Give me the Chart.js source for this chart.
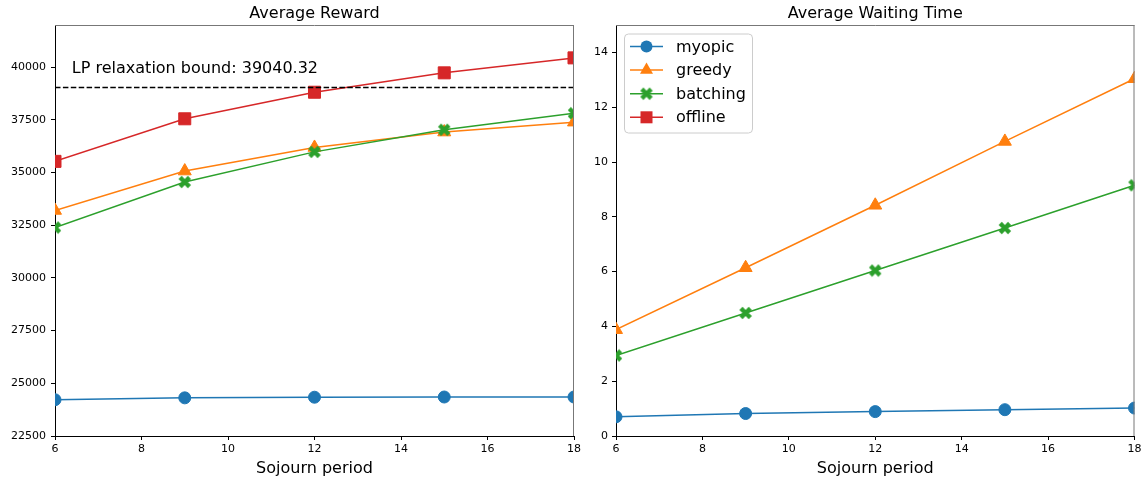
<!DOCTYPE html>
<html><head><meta charset="utf-8">
<script src="https://cdn.jsdelivr.net/npm/chart.js@4/dist/chart.umd.min.js"></script>
<style>
html,body{margin:0;padding:0;background:#fff;}
#wrap{position:relative;width:1143px;height:481px;overflow:hidden;background:#fff;}
canvas{position:absolute;top:0;}
</style></head><body>
<div id="wrap">
<canvas id="c1" width="590" height="481" style="left:0;width:590px;height:481px"></canvas>
<canvas id="c2" width="565" height="481" style="left:578px;width:565px;height:481px"></canvas>
</div>
<script>
// ---- data ----
const sojourn = [6, 9, 12, 15, 18];
const seriesNames = ['myopic', 'greedy', 'batching', 'offline'];
const rewardMyopic   = [24220, 24310, 24340, 24350, 24350];
const rewardGreedy   = [33200, 35070, 36190, 36920, 37390];
const rewardBatching = [32390, 34550, 35980, 37030, 37810];
const rewardOffline  = [35530, 37550, 38810, 39730, 40440];
const waitMyopic   = [0.70, 0.82, 0.89, 0.96, 1.02];
const waitGreedy   = [3.88, 6.14, 8.42, 10.75, 13.04];
const waitBatching = [2.94, 4.49, 6.04, 7.59, 9.15];
const lpBound = 39040.32;
const xTicks = [6, 8, 10, 12, 14, 16, 18];
const rewardTicks = [22500, 25000, 27500, 30000, 32500, 35000, 37500, 40000];
const waitTicks = [0, 2, 4, 6, 8, 10, 12, 14];

const COLORS = ['#1f77b4', '#ff7f0e', '#2ca02c', '#d62728'];
const FONT = "'DejaVu Sans', sans-serif";

// filled X marker image
function makeX(color) {
  const c = document.createElement('canvas');
  c.width = 14; c.height = 14;
  const g = c.getContext('2d');
  g.translate(7, 7); g.rotate(Math.PI / 4);
  const s = 6.6, w = 2.2;
  g.fillStyle = color;
  g.beginPath();
  g.moveTo(-w, -s); g.lineTo(w, -s); g.lineTo(w, -w); g.lineTo(s, -w);
  g.lineTo(s, w); g.lineTo(w, w); g.lineTo(w, s); g.lineTo(-w, s);
  g.lineTo(-w, w); g.lineTo(-s, w); g.lineTo(-s, -w); g.lineTo(-w, -w);
  g.closePath(); g.fill();
  return c;
}
const xImg = makeX(COLORS[2]);
const STYLES = [
  {pointStyle: 'circle', pointRadius: 6},
  {pointStyle: 'triangle', pointRadius: 7.5},
  {pointStyle: xImg, pointRadius: 7},
  {pointStyle: 'rect', pointRadius: 8.5}
];

function pts(vals) { return sojourn.map((x, i) => ({x: x, y: vals[i]})); }
function ds(idx, vals) {
  return {
    label: seriesNames[idx],
    data: pts(vals),
    borderColor: COLORS[idx],
    backgroundColor: COLORS[idx],
    pointBackgroundColor: COLORS[idx],
    pointBorderColor: COLORS[idx],
    pointBorderWidth: 1,
    borderWidth: 1.5,
    tension: 0,
    pointStyle: STYLES[idx].pointStyle,
    pointRadius: STYLES[idx].pointRadius,
    pointHoverRadius: STYLES[idx].pointRadius,
    clip: 0,
    order: 3 - idx
  };
}

function drawMarker(ctx, idx, x, y) {
  const c = COLORS[idx];
  ctx.save();
  ctx.fillStyle = c; ctx.strokeStyle = c; ctx.lineWidth = 1;
  if (idx === 0) {
    ctx.beginPath(); ctx.arc(x, y, 6, 0, Math.PI * 2); ctx.fill();
  } else if (idx === 1) {
    const r = 7.5;
    ctx.beginPath();
    ctx.moveTo(x, y - r);
    ctx.lineTo(x + r * Math.sin(2 * Math.PI / 3), y - r * Math.cos(2 * Math.PI / 3));
    ctx.lineTo(x + r * Math.sin(4 * Math.PI / 3), y - r * Math.cos(4 * Math.PI / 3));
    ctx.closePath(); ctx.fill();
  } else if (idx === 2) {
    ctx.drawImage(xImg, x - 7, y - 7);
  } else {
    ctx.fillRect(x - 6, y - 6, 12, 12);
  }
  ctx.restore();
}

const framePlugin = {
  id: 'frame',
  afterDraw(chart, args, opts) {
    const {ctx, chartArea: a} = chart;
    ctx.save();
    ctx.strokeStyle = '#777';
    ctx.lineWidth = 1;
    ctx.beginPath();
    ctx.moveTo(a.left, a.top + 0.5); ctx.lineTo(a.right, a.top + 0.5);
    ctx.moveTo(a.right - 0.5, a.top); ctx.lineTo(a.right - 0.5, a.bottom);
    ctx.stroke();
    ctx.fillStyle = '#000';
    ctx.font = "16px " + FONT;
    ctx.textAlign = 'center';
    ctx.textBaseline = 'alphabetic';
    ctx.fillText(opts.title, (a.left + a.right) / 2, a.top - 7);
    ctx.restore();
  }
};

const lpPlugin = {
  id: 'lpline',
  afterDatasetsDraw(chart, args, opts) {
    if (!opts.show) return;
    const {ctx, chartArea: a, scales} = chart;
    const y = scales.y.getPixelForValue(lpBound);
    ctx.save();
    ctx.strokeStyle = '#000';
    ctx.lineWidth = 1.5;
    ctx.setLineDash([5.5, 2.4]);
    ctx.beginPath();
    ctx.moveTo(a.left, y); ctx.lineTo(a.right, y);
    ctx.stroke();
    ctx.setLineDash([]);
    ctx.fillStyle = '#000';
    ctx.font = "16px " + FONT;
    ctx.textAlign = 'left';
    ctx.textBaseline = 'alphabetic';
    ctx.fillText('LP relaxation bound: ' + lpBound.toFixed(2),
      scales.x.getPixelForValue(6.39), scales.y.getPixelForValue(40000) + 6);
    ctx.restore();
  }
};

const legendPlugin = {
  id: 'boxlegend',
  afterDraw(chart, args, opts) {
    if (!opts.show) return;
    const {ctx, chartArea: a} = chart;
    const bx = a.left + 8, by = a.top + 8.5, bw = 128, bh = 99, r = 4;
    ctx.save();
    ctx.fillStyle = 'rgba(255,255,255,0.8)';
    ctx.strokeStyle = '#cccccc';
    ctx.lineWidth = 1;
    ctx.beginPath();
    if (ctx.roundRect) ctx.roundRect(bx + 0.5, by + 0.5, bw, bh, r);
    else ctx.rect(bx + 0.5, by + 0.5, bw, bh);
    ctx.fill(); ctx.stroke();
    ctx.font = "16px " + FONT;
    ctx.textBaseline = 'middle';
    ctx.textAlign = 'left';
    seriesNames.forEach((name, i) => {
      const yy = by + 13 + i * 23.6;
      const x0 = bx + 6, x1 = bx + 39;
      ctx.strokeStyle = COLORS[i];
      ctx.lineWidth = 1.5;
      ctx.beginPath(); ctx.moveTo(x0, yy); ctx.lineTo(x1, yy); ctx.stroke();
      drawMarker(ctx, i, (x0 + x1) / 2, yy);
      ctx.fillStyle = '#000';
      ctx.fillText(name, bx + 52, yy + 1);
    });
    ctx.restore();
  }
};

Chart.defaults.color = '#000';
Chart.defaults.font.family = FONT;
Chart.defaults.animation = false;

function makeOptions(cfg) {
  return {
    responsive: false,
    animation: false,
    devicePixelRatio: 1,
    layout: {padding: {top: 25, right: cfg.padRight, left: 0, bottom: 0}},
    plugins: {
      legend: {display: false},
      title: {display: false},
      tooltip: {enabled: false},
      frame: {title: cfg.title},
      lpline: {show: cfg.lp},
      boxlegend: {show: cfg.legend}
    },
    scales: {
      x: {
        type: 'linear',
        min: 6, max: 18,
        afterBuildTicks: s => { s.ticks = xTicks.map(v => ({value: v})); },
        afterFit: s => { s.height = 45; s.paddingLeft = 0; s.paddingRight = 0; },
        grid: {drawOnChartArea: false, color: '#000', tickLength: 4, tickWidth: 1},
        border: {color: '#000', width: 1},
        ticks: {font: {size: 11}, padding: 3, color: '#000', maxRotation: 0, autoSkip: false},
        title: {display: true, text: 'Sojourn period', font: {size: 16}, color: '#000', padding: {top: 0, bottom: 3}}
      },
      y: {
        type: 'linear',
        min: cfg.ymin, max: cfg.ymax,
        afterBuildTicks: s => { s.ticks = cfg.yticks.map(v => ({value: v})); },
        afterFit: s => { s.width = cfg.yw; },
        grid: {drawOnChartArea: false, color: '#000', tickLength: 4, tickWidth: 1},
        border: {color: '#000', width: 1},
        ticks: {font: {size: 11}, padding: cfg.ypad, color: '#000', autoSkip: false,
          callback: v => String(v)}
      }
    }
  };
}

const PLUGINS = [framePlugin, lpPlugin, legendPlugin];

new Chart(document.getElementById('c1'), {
  type: 'line',
  data: {datasets: [ds(0, rewardMyopic), ds(1, rewardGreedy), ds(2, rewardBatching), ds(3, rewardOffline)]},
  options: makeOptions({title: 'Average Reward', lp: true, legend: false, ymin: 22500, ymax: 42000,
    yticks: rewardTicks, yw: 55, ypad: 5, padRight: 16}),
  plugins: PLUGINS
});

new Chart(document.getElementById('c2'), {
  type: 'line',
  data: {datasets: [ds(0, waitMyopic), ds(1, waitGreedy), ds(2, waitBatching)]},
  options: makeOptions({title: 'Average Waiting Time', lp: false, legend: true, ymin: 0, ymax: 15,
    yticks: waitTicks, yw: 38, ypad: 4, padRight: 8.5}),
  plugins: PLUGINS
});
</script>
</body></html>
